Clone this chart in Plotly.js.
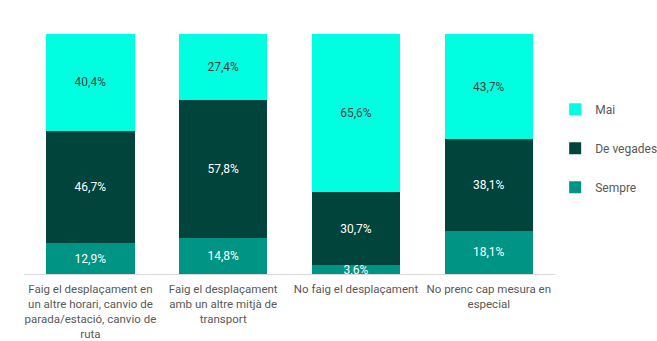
<!DOCTYPE html>
<html><head><meta charset="utf-8">
<script src="https://cdn.plot.ly/plotly-3.0.1.min.js"></script>
<style>html,body{margin:0;padding:0;background:#fff}</style>
</head><body><div id="chart" style="width:657px;height:341px"></div>
<script>
const categories = [
  "Faig el desplaçament en<br>un altre horari, canvio de<br>parada/estació, canvio de<br>ruta",
  "Faig el desplaçament<br>amb un altre mitjà de<br>transport",
  "No faig el desplaçament",
  "No prenc cap mesura en<br>especial"
];
const sempre = [12.9, 14.8, 3.6, 18.1];
const deVegades = [46.7, 57.8, 30.7, 38.1];
const mai = [40.4, 27.4, 65.6, 43.7];

const fmt = v => v.toFixed(1).replace('.', ',') + '%';
const FONT = 'Roboto, "Liberation Sans", sans-serif';

function tr(name, vals, color, txtColor, grp, rank) {
  return {
    type: 'bar', name: name, x: categories, y: vals,
    marker: {color: color},
    text: vals.map(fmt), textposition: 'inside', insidetextanchor: 'middle',
    constraintext: 'none', cliponaxis: false,
    textfont: {family: FONT, size: 12, color: txtColor},
    legendgroup: grp, legendrank: rank, hoverinfo: 'skip'
  };
}
const data = [
  tr('Sempre', sempre, '#009485', '#ffffff', 'a', 3),
  tr('De vegades', deVegades, '#00443C', '#ffffff', 'b', 2),
  tr('Mai', mai, '#00FFE1', '#404040', 'c', 1)
];
const layout = {
  barmode: 'stack', bargap: 0.335,
  margin: {l: 24, r: 98, t: 34, b: 67},
  paper_bgcolor: '#fff', plot_bgcolor: '#fff',
  font: {family: FONT, size: 12, color: '#595959'},
  xaxis: {showline: true, linecolor: '#d9d9d9', linewidth: 1, ticks: '', showgrid: false,
          ticklabelstandoff: 4,
          tickfont: {family: FONT, size: 11.5, color: '#595959'}},
  yaxis: {range: [0, 100], visible: false, showgrid: false, zeroline: false},
  showlegend: true,
  legend: {xref: 'container', yref: 'container', x: 0.845, xanchor: 'left', y: 0.722, yanchor: 'top',
           traceorder: 'grouped', tracegroupgap: 20,
           font: {family: FONT, size: 12, color: '#595959'}}
};
Plotly.newPlot('chart', data, layout, {staticPlot: true, displayModeBar: false});
</script></body></html>
